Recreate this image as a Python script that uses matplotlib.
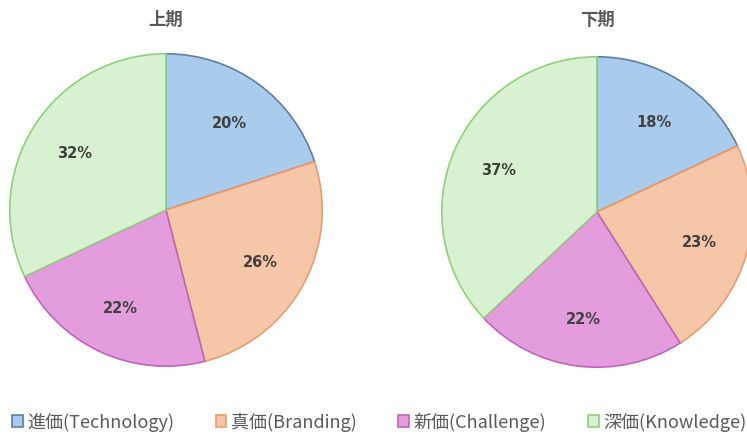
import matplotlib.pyplot as plt
from matplotlib.patches import Patch

plt.rcParams['font.family'] = ['Noto Sans CJK JP', 'DejaVu Sans']

# データ
categories = ['進価(Technology)', '真価(Branding)', '新価(Challenge)', '深価(Knowledge)']
first_half = [20, 26, 22, 32]
second_half = [18, 23, 22, 37]
titles = ['上期', '下期']

fills = ['#a9cbec', '#f6c6a8', '#e49ddc', '#d8f1d0']
edges = ['#5b7fa6', '#ef9a68', '#c064c0', '#8fd07c']

fig = plt.figure(figsize=(7.47, 4.35), dpi=100)
W, H = 747, 435

def add_pie(cx, cy, r, values, title):
    ax = fig.add_axes([(cx - r) / W, (H - cy - r) / H, 2 * r / W, 2 * r / H])
    wedges, texts, autotexts = ax.pie(values, colors=fills, startangle=90, counterclock=False,
                                      autopct='%d%%', pctdistance=0.69,
                                      wedgeprops=dict(linewidth=1.2))
    for w, ec in zip(wedges, edges):
        w.set_edgecolor(ec)
    for t in autotexts:
        t.set_fontsize(10.5)
        t.set_fontweight('bold')
        t.set_fontfamily('DejaVu Sans')
        t.set_color('#404040')
    ax.set_xlim(-1.005, 1.005)
    ax.set_ylim(-1.005, 1.005)
    ax.set_aspect('equal')
    fig.text(cx / W, (H - 20) / H, title, ha='center', va='center',
             fontsize=12.5, fontweight='bold', color='#595959')
    return ax

add_pie(166, 211, 157, first_half, titles[0])
add_pie(597, 213, 156, second_half, titles[1])

handles = [Patch(facecolor=f, edgecolor=e, linewidth=1.2) for f, e in zip(fills, edges)]
fig.legend(handles, categories, loc='center', bbox_to_anchor=(379 / W, (H - 423) / H),
           ncol=4, frameon=False, fontsize=13, labelcolor='#595959',
           handlelength=0.6, handleheight=0.6, handletextpad=0.25, columnspacing=2.3)

plt.savefig('out.png', dpi=100)
